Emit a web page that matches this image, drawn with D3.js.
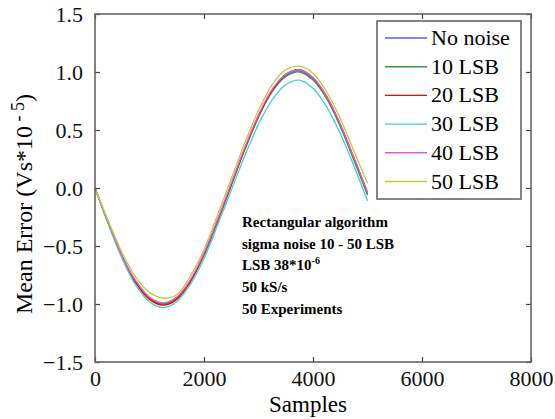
<!DOCTYPE html>
<html>
<head>
<meta charset="utf-8">
<script src="https://cdn.jsdelivr.net/npm/d3@7"></script>
<style>
  body { margin: 0; background: #fff; }
  svg text { font-family: "Liberation Serif", "Times New Roman", Times, serif; }
</style>
</head>
<body>
<div id="chart"></div>
<script>
// samples, every 250
var samples = [0, 250, 500, 750, 1000, 1250, 1500, 1750, 2000, 2250, 2500,
  2750, 3000, 3250, 3500, 3750, 4000, 4250, 4500, 4750, 5000];

var noNoise = [0, -0.31, -0.59, -0.81, -0.95, -1.00, -0.95, -0.80, -0.57, -0.28, 0.03,
  0.34, 0.62, 0.84, 0.97, 1.01, 0.94, 0.78, 0.54, 0.25, -0.05];
var lsb10 = [0, -0.31, -0.59, -0.81, -0.95, -1.00, -0.95, -0.80, -0.58, -0.29, 0.02,
  0.33, 0.61, 0.83, 0.96, 1.00, 0.93, 0.77, 0.53, 0.24, -0.06];
var lsb20 = [0, -0.31, -0.60, -0.82, -0.96, -1.01, -0.96, -0.81, -0.57, -0.28, 0.03,
  0.34, 0.62, 0.84, 0.98, 1.02, 0.95, 0.79, 0.55, 0.26, -0.04];
var lsb30 = [0, -0.32, -0.61, -0.84, -0.98, -1.03, -0.98, -0.83, -0.61, -0.32, -0.02,
  0.28, 0.55, 0.76, 0.89, 0.93, 0.86, 0.70, 0.47, 0.19, -0.11];
var lsb40 = [0, -0.30, -0.59, -0.80, -0.94, -0.99, -0.94, -0.79, -0.56, -0.27, 0.04,
  0.35, 0.63, 0.85, 0.98, 1.02, 0.95, 0.79, 0.55, 0.26, -0.04];
var lsb50 = [0, -0.29, -0.56, -0.77, -0.90, -0.95, -0.92, -0.76, -0.53, -0.23, 0.08,
  0.39, 0.67, 0.89, 1.02, 1.05, 0.99, 0.83, 0.60, 0.32, 0.04];

var seriesNames = ["No noise", "10 LSB", "20 LSB", "30 LSB", "40 LSB", "50 LSB"];
var seriesValues = [noNoise, lsb10, lsb20, lsb30, lsb40, lsb50];
var seriesColors = ["#5a5aff", "#3a9a3a", "#ff0000", "#40d0d0", "#d860d8", "#c8c83c"];

var xTicks = [0, 2000, 4000, 6000, 8000];
var yTicks = [-1.5, -1.0, -0.5, 0.0, 0.5, 1.0, 1.5];

var notes = ["Rectangular algorithm", "sigma noise 10 - 50 LSB", "LSB 38*10", "50 kS/s", "50 Experiments"];

var serif = "'Liberation Serif', 'Times New Roman', Times, serif";

var W = 555, H = 419;
var margin = {top: 14, right: 24, bottom: 57, left: 95},
  width = W - margin.left - margin.right,
  height = H - margin.top - margin.bottom;

var svg = d3.select("#chart").append("svg")
    .attr("width", W)
    .attr("height", H)
    .attr("font-family", serif),
  g = svg.append("g")
    .attr("transform", "translate(" + margin.left + "," + margin.top + ")");

var x = d3.scaleLinear().domain([0, 8000]).range([0, width]);
var y = d3.scaleLinear().domain([-1.5, 1.5]).range([height, 0]);

// curves
var line = d3.line()
  .x(function(d) { return x(d[0]); })
  .y(function(d) { return y(d[1]); })
  .curve(d3.curveCatmullRom);

seriesValues.forEach(function(vals, i) {
  g.append("path")
    .datum(samples.map(function(s, j) { return [s, vals[j]]; }))
    .attr("fill", "none")
    .attr("stroke", seriesColors[i])
    .attr("stroke-width", 1.3)
    .attr("d", line);
});

// axes, ticks inside on all four sides
var tickCol = "#444";
var axes = [
  g.append("g").attr("transform", "translate(0," + height + ")")
    .call(d3.axisBottom(x).tickValues(xTicks).tickSize(-5).tickPadding(8).tickFormat(d3.format("d"))),
  g.append("g")
    .call(d3.axisTop(x).tickValues(xTicks).tickSize(-5).tickFormat("")),
  g.append("g")
    .call(d3.axisLeft(y).tickValues(yTicks).tickSize(-5).tickPadding(12).tickFormat(d3.format(".1f"))),
  g.append("g").attr("transform", "translate(" + width + ",0)")
    .call(d3.axisRight(y).tickValues(yTicks).tickSize(-5).tickFormat(""))
];
axes.forEach(function(a) { a.attr("font-family", serif).attr("font-size", 22); });

g.selectAll(".domain").remove();
g.selectAll(".tick line").attr("stroke", tickCol).attr("stroke-width", 1.2);
g.selectAll(".tick text").attr("fill", "#111");

g.append("rect")
  .attr("width", width).attr("height", height)
  .attr("fill", "none").attr("stroke", "#666").attr("stroke-width", 1.6);

// axis titles
svg.append("text")
  .attr("x", margin.left + width / 2 - 5).attr("y", 412)
  .attr("text-anchor", "middle")
  .attr("font-size", 23)
  .text("Samples");

var yl = svg.append("text")
  .attr("transform", "translate(32,204) rotate(-90)")
  .attr("text-anchor", "middle")
  .attr("font-size", 24);
yl.append("tspan").text("Mean Error (Vs*10");
yl.append("tspan").attr("dy", -8).attr("font-size", 18).text(" - 5");
yl.append("tspan").attr("dy", 8).text(")");

// legend
var leg = svg.append("g").attr("transform", "translate(377,21)");
leg.append("rect")
  .attr("width", 144).attr("height", 178)
  .attr("fill", "#fff").attr("stroke", "#666").attr("stroke-width", 1.6);
seriesNames.forEach(function(name, i) {
  var cy = 17 + i * 28.7;
  leg.append("line")
    .attr("x1", 8).attr("x2", 50).attr("y1", cy).attr("y2", cy)
    .attr("stroke", seriesColors[i]).attr("stroke-width", 1.4);
  leg.append("text")
    .attr("x", 54).attr("y", cy + 7)
    .attr("font-size", 22)
    .text(name);
});

// annotation
var ann = svg.append("g").attr("transform", "translate(242,227)");
notes.forEach(function(t, i) {
  var tx = ann.append("text")
    .attr("y", i * 21.7)
    .attr("font-size", 15)
    .attr("font-weight", "bold")
    .text(t);
  if (i === 2) {
    tx.append("tspan").attr("dy", -6).attr("font-size", 10).text("-6");
  }
});
</script>
</body>
</html>
